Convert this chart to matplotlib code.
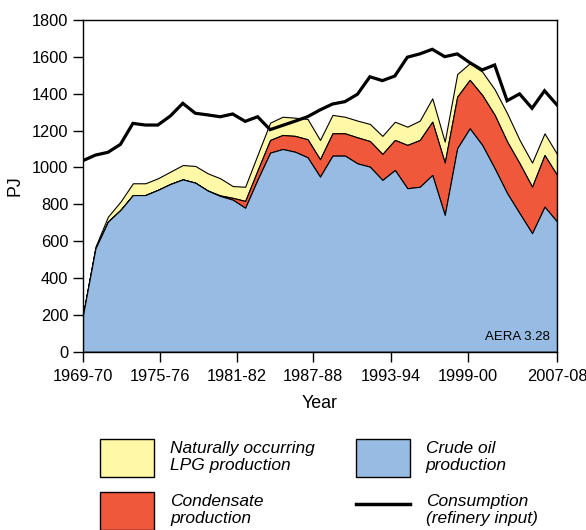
import numpy as np
import matplotlib
matplotlib.use("Agg")
import matplotlib.pyplot as plt
from matplotlib.lines import Line2D
from matplotlib.patches import Patch

# ---- data (PJ) ----
years = ["1969-70", "1975-76", "1981-82", "1987-88", "1993-94", "1999-00", "2007-08"]
crude = [199, 561, 706, 769, 850, 850, 878, 910, 935, 917, 874, 845, 825, 781,
         935, 1080, 1100, 1085, 1055, 950, 1064, 1064, 1022, 1004, 932, 986, 887,
         895, 959, 742, 1104, 1212, 1122, 995, 860, 751, 643, 787, 706]
condensate = [0, 0, 0, 0, 0, 0, 0, 0, 0, 0, 0, 3, 10, 37,
              50, 69, 76, 86, 98, 94, 121, 121, 141, 139, 141, 163, 235,
              254, 289, 284, 280, 263, 271, 290, 280, 271, 252, 280, 253]
lpg = [0, 9, 27, 45, 64, 64, 63, 67, 78, 91, 94, 93, 64, 77,
       85, 94, 99, 99, 110, 105, 100, 90, 91, 93, 98, 99, 99,
       105, 127, 114, 123, 90, 127, 139, 154, 127, 131, 118, 114]
consumption = [1037, 1067, 1082, 1125, 1239, 1230, 1230, 1279, 1348, 1294, 1285, 1275, 1290,
               1250, 1275, 1205, 1228, 1251, 1275, 1312, 1344, 1357, 1397, 1492, 1471, 1496,
               1598, 1616, 1641, 1601, 1616, 1569, 1529, 1556, 1362, 1399, 1321, 1416, 1339]
tick_pos = [0, 6.17, 12.35, 18.44, 24.69, 30.86, 38]

C_YELLOW = "#FFF8A6"
C_RED = "#F0583C"
C_BLUE = "#97BBE2"

x = np.arange(len(crude))
crude_a = np.array(crude, float)
cond_top = crude_a + np.array(condensate, float)
lpg_top = cond_top + np.array(lpg, float)

narrow = ["Liberation Sans Narrow", "Liberation Sans", "DejaVu Sans"]
plt.rcParams['font.family'] = ["Liberation Sans", "DejaVu Sans"]

fig = plt.figure(figsize=(5.86, 5.30), dpi=100)
ax = fig.add_axes([83/586, 1-351.7/530, (557-83)/586, (351.7-20)/530])

h_lpg = ax.fill_between(x, cond_top, lpg_top, facecolor=C_YELLOW, edgecolor="black", linewidth=0.8)
h_cond = ax.fill_between(x, crude_a, cond_top, facecolor=C_RED, edgecolor="black", linewidth=0.8)
h_crude = ax.fill_between(x, 0, crude_a, facecolor=C_BLUE, edgecolor="black", linewidth=0.8)
h_cons, = ax.plot(x, consumption, color="black", linewidth=2.3, solid_joinstyle="miter")

ax.set_xlim(0, 38)
ax.set_ylim(0, 1800)
ax.set_yticks(np.arange(0, 1801, 200))
ax.set_xticks(tick_pos)
ax.set_xticklabels(years)
for lab in ax.get_xticklabels() + ax.get_yticklabels():
    lab.set_family(narrow)
    lab.set_fontsize(11.8)
ax.tick_params(axis="both", direction="out", length=7.5, width=1, color="black")
ax.tick_params(axis="x", pad=5)
ax.tick_params(axis="y", pad=3)
for s in ax.spines.values():
    s.set_linewidth(1)
ax.set_xlabel("Year", family=narrow, fontsize=12.8, labelpad=8)
ax.set_ylabel("PJ", family=narrow, fontsize=12.8, labelpad=6)
ax.text(0.985, 0.025, "AERA 3.28", transform=ax.transAxes, ha="right", va="bottom", fontsize=9.5)

fs = 12.5
handles = [Patch(facecolor=C_YELLOW, edgecolor="black", linewidth=1),
           Patch(facecolor=C_RED, edgecolor="black", linewidth=1),
           Patch(facecolor=C_BLUE, edgecolor="black", linewidth=1),
           Line2D([], [], color="black", linewidth=2.5)]
labels = ["Naturally occurring\nLPG production", "Condensate\nproduction",
          "Crude oil\nproduction", "Consumption\n(refinery input)"]
em = fs * 100 / 72
hh = (38 / em - 0.245) / 0.65
leg = fig.legend(handles, labels, ncol=2, loc="upper left",
                 bbox_to_anchor=(100/586, 1-439/530), frameon=False,
                 prop={"style": "italic", "size": fs},
                 handlelength=54/em, handleheight=hh, handletextpad=16/em,
                 columnspacing=41/em, labelspacing=15/em, borderpad=0, borderaxespad=0)
for t in leg.get_texts():
    t.set_linespacing(1.2)

fig.savefig("out.png", dpi=100)
